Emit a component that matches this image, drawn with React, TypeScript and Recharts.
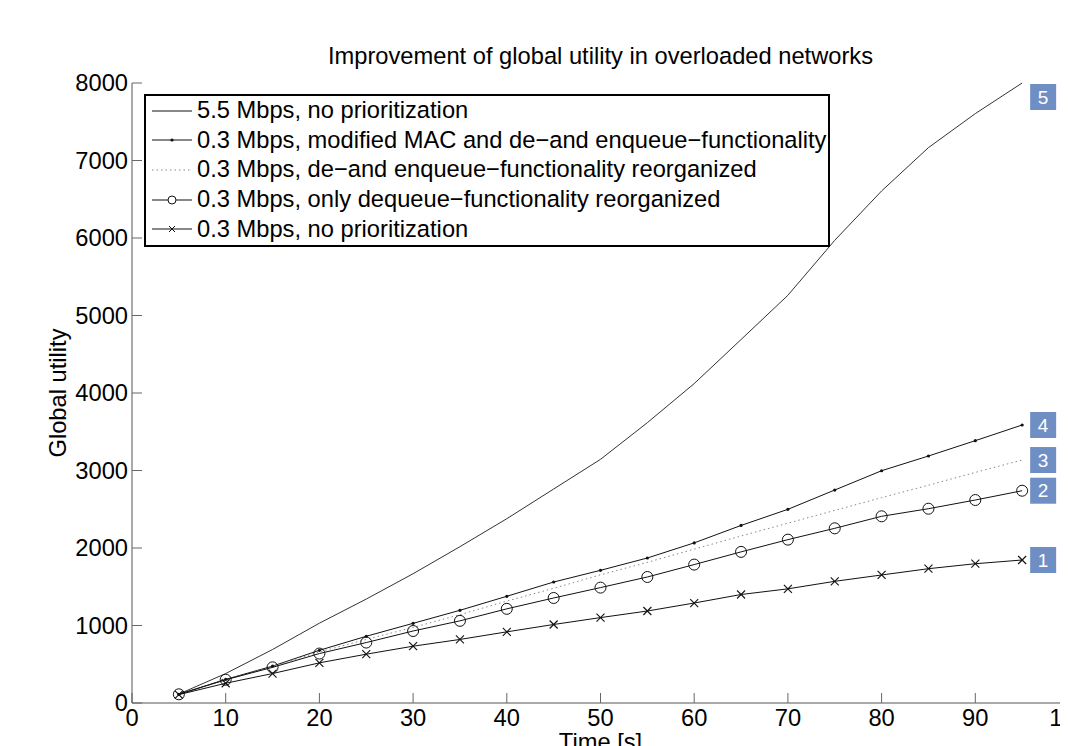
import React from 'react';
import { LineChart, Line, XAxis, YAxis, Legend } from 'recharts';

// time axis (s)
const times = [5, 10, 15, 20, 25, 30, 35, 40, 45, 50, 55, 60, 65, 70, 75, 80, 85, 90, 95];

// global utility per series
const fastNoPrio = [115, 380, 690, 1030, 1341, 1668, 2017, 2378, 2761, 3144, 3617, 4121, 4690, 5261, 5970, 6607, 7166, 7605, 8000];
const slowModMac = [112, 305, 476, 680, 861, 1028, 1196, 1377, 1561, 1712, 1871, 2066, 2291, 2499, 2748, 2997, 3187, 3385, 3587];
const slowDeEnq = [112, 300, 470, 660, 820, 975, 1140, 1315, 1480, 1654, 1815, 1985, 2155, 2320, 2485, 2650, 2810, 2975, 3135];
const slowDeq = [112, 300, 460, 638, 780, 929, 1060, 1215, 1355, 1489, 1626, 1786, 1950, 2108, 2254, 2409, 2507, 2619, 2739];
const slowNoPrio = [108, 255, 380, 518, 630, 733, 820, 918, 1013, 1102, 1187, 1290, 1400, 1473, 1570, 1652, 1733, 1797, 1845];

const xTicks = [0, 10, 20, 30, 40, 50, 60, 70, 80, 90, 100];
const yTicks = [0, 1000, 2000, 3000, 4000, 5000, 6000, 7000, 8000];

const legendNames = [
  '5.5 Mbps, no prioritization',
  '0.3 Mbps, modified MAC and de\u2212and enqueue\u2212functionality',
  '0.3 Mbps, de\u2212and enqueue\u2212functionality reorganized',
  '0.3 Mbps, only dequeue\u2212functionality reorganized',
  '0.3 Mbps, no prioritization',
];

const rows = times.map((t, i) => ({
  t,
  fast: fastNoPrio[i],
  mac: slowModMac[i],
  deenq: slowDeEnq[i],
  deq: slowDeq[i],
  none: slowNoPrio[i],
}));

const FONT = '"Liberation Sans", Arial, Helvetica, sans-serif';
const FS = 23.7;
const INK = '#111';
const BOX = '#6f8fc4';
const last = times.length - 1;

const SmallDot = (p: any) => <circle key={p.index} cx={p.cx} cy={p.cy} r={1.6} fill={INK} />;
const RingDot = (p: any) => <circle key={p.index} cx={p.cx} cy={p.cy} r={5.5} fill="none" stroke={INK} strokeWidth={1} />;
const CrossDot = (p: any) => (
  <g key={p.index} stroke={INK} strokeWidth={1.1}>
    <line x1={p.cx - 4} y1={p.cy - 4} x2={p.cx + 4} y2={p.cy + 4} />
    <line x1={p.cx - 4} y1={p.cy + 4} x2={p.cx + 4} y2={p.cy - 4} />
  </g>
);

const endBox = (num: string) => (p: any) => {
  if (p.index !== last) return null;
  const px = p.x ?? p.viewBox?.x;
  const py = p.y ?? p.viewBox?.y;
  const top = Math.max(py - 13, 76);
  return (
    <g>
      <rect x={px + 8} y={top} width={26} height={26} fill={BOX} />
      <text x={px + 21} y={top + 13} textAnchor="middle" dominantBaseline="central"
        fill="#fff" fontSize={19} fontFamily={FONT}>{num}</text>
    </g>
  );
};

const icons = [
  <line x1={0} y1={15} x2={40} y2={15} stroke={INK} />,
  <g><line x1={0} y1={15} x2={40} y2={15} stroke={INK} /><circle cx={20} cy={15} r={1.6} fill={INK} /></g>,
  <line x1={0} y1={15} x2={40} y2={15} stroke="#888" strokeDasharray="1.5 3" />,
  <g><line x1={0} y1={15} x2={40} y2={15} stroke={INK} /><circle cx={20} cy={15} r={4} fill="#fff" stroke={INK} /></g>,
  <g stroke={INK}><line x1={0} y1={15} x2={40} y2={15} /><line x1={17} y1={12} x2={23} y2={18} /><line x1={17} y1={18} x2={23} y2={12} /></g>,
];

const LegendBox = () => (
  <div style={{ border: '2px solid #000', background: '#fff', boxSizing: 'border-box', width: 686, height: 153 }}>
    {legendNames.map((name, i) => (
      <div key={name} style={{ display: 'flex', alignItems: 'center', height: 29.6 }}>
        <svg width={40} height={30} style={{ marginLeft: 6 }}>{icons[i]}</svg>
        <span style={{ marginLeft: 5, fontSize: FS, fontFamily: FONT, color: '#000', whiteSpace: 'nowrap' }}>{name}</span>
      </div>
    ))}
  </div>
);

const YLabel = (p: any) => {
  const vb = p.viewBox;
  const cx = 50;
  const cy = vb.y + vb.height / 2;
  return (
    <text x={cx} y={cy} transform={`rotate(-90 ${cx} ${cy})`} textAnchor="middle"
      dominantBaseline="central" fontSize={FS} fontFamily={FONT} fill="#000">Global utility</text>
  );
};

const XLabel = (p: any) => {
  const vb = p.viewBox;
  return (
    <text x={vb.x + vb.width / 2} y={734} textAnchor="middle" dominantBaseline="central"
      fontSize={FS} fontFamily={FONT} fill="#000">Time [s]</text>
  );
};

export default function App() {
  return (
    <div style={{ position: 'relative', width: 1060, height: 738, overflow: 'hidden', background: '#fff', fontFamily: FONT }}>
      <div style={{ position: 'absolute', left: 124, top: 37, width: 937, textAlign: 'center', fontSize: FS, lineHeight: 1, color: '#000', zIndex: 2 }}>
        Improvement of global utility in overloaded networks
      </div>
      <LineChart width={1120} height={780} data={rows} margin={{ top: 75, right: 59, bottom: 35, left: 0 }}>
        <XAxis type="number" dataKey="t" domain={[0, 100]} ticks={xTicks} interval={0} height={50}
          tickSize={-10} tickMargin={16} axisLine={{ stroke: '#555' }} tickLine={{ stroke: '#666' }}
          tick={{ fill: '#000', fontSize: FS, fontFamily: FONT }} label={{ content: XLabel }} />
        <YAxis type="number" domain={[0, 8000]} ticks={yTicks} interval={0} width={124}
          tickSize={-10} tickMargin={14} axisLine={{ stroke: '#555' }} tickLine={{ stroke: '#666' }}
          tick={{ fill: '#000', fontSize: FS, fontFamily: FONT }} label={{ content: YLabel }} />
        <Legend layout="horizontal" verticalAlign="middle" align="center" content={LegendBox}
          wrapperStyle={{ position: 'absolute', left: 136, top: 86, width: 686, height: 153 }} />
        <Line type="linear" dataKey="fast" name={legendNames[0]} stroke="#333" strokeWidth={1} dot={false}
          activeDot={false} isAnimationActive={false} label={endBox('5')} />
        <Line type="linear" dataKey="mac" name={legendNames[1]} stroke={INK} strokeWidth={1} dot={SmallDot}
          activeDot={false} isAnimationActive={false} label={endBox('4')} />
        <Line type="linear" dataKey="deenq" name={legendNames[2]} stroke="#888" strokeWidth={1} strokeDasharray="1.5 3"
          dot={false} activeDot={false} isAnimationActive={false} label={endBox('3')} />
        <Line type="linear" dataKey="deq" name={legendNames[3]} stroke={INK} strokeWidth={1} dot={RingDot}
          activeDot={false} isAnimationActive={false} label={endBox('2')} />
        <Line type="linear" dataKey="none" name={legendNames[4]} stroke={INK} strokeWidth={1} dot={CrossDot}
          activeDot={false} isAnimationActive={false} label={endBox('1')} />
      </LineChart>
    </div>
  );
}
